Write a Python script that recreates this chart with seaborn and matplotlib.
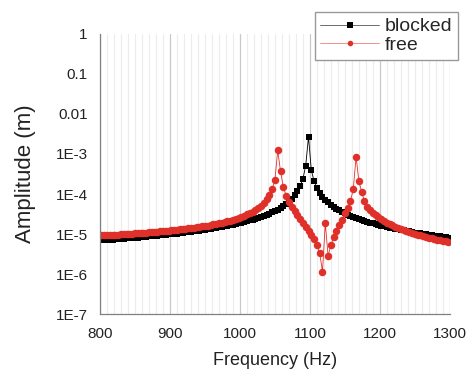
import numpy as np
import pandas as pd

import seaborn as sns
import matplotlib.pyplot as plt
from matplotlib.ticker import FixedLocator, FixedFormatter, MultipleLocator

# Frequency grid (Hz), one point every 4 Hz
freq = np.arange(802, 1299, 4)

# Amplitudes, in micrometres
blocked_um = [
    6.93, 7.01, 7.09, 7.18, 7.26, 7.35, 7.45, 7.54, 7.64, 7.74,
    7.85, 7.95, 8.06, 8.18, 8.30, 8.42, 8.55, 8.68, 8.82, 8.96,
    9.10, 9.26, 9.42, 9.58, 9.75, 9.93, 10.12, 10.31, 10.51, 10.72,
    10.94, 11.18, 11.42, 11.67, 11.94, 12.22, 12.51, 12.83, 13.15, 13.50,
    13.87, 14.26, 14.67, 15.11, 15.59, 16.09, 16.63, 17.20, 17.83, 18.50,
    19.23, 20.02, 20.88, 21.82, 22.86, 24.01, 25.28, 26.70, 28.29, 30.10,
    32.16, 34.53, 37.29, 40.54, 44.43, 50.0, 57.0, 65.6, 76.6, 92.2,
    115.7, 155.7, 238, 510, 2700, 395, 209, 141.7, 107.2, 86.1,
    71.9, 61.7, 54.0, 48.0, 43.2, 39.2, 35.9, 33.1, 30.7, 28.7,
    26.8, 25.2, 23.8, 22.5, 21.3, 20.3, 19.35, 18.48, 17.68, 16.95,
    16.27, 15.64, 15.06, 14.52, 14.01, 13.54, 13.10, 12.68, 12.29, 11.92,
    11.57, 11.24, 10.92, 10.62, 10.34, 10.07, 9.82, 9.57, 9.34, 9.12,
    8.91, 8.70, 8.51, 8.32, 8.14,
]
free_um = [
    9.23, 9.31, 9.39, 9.47, 9.55, 9.64, 9.73, 9.82, 9.92, 10.02,
    10.12, 10.23, 10.34, 10.46, 10.58, 10.70, 10.83, 10.97, 11.11, 11.26,
    11.42, 11.58, 11.75, 11.93, 12.12, 12.32, 12.53, 12.75, 12.98, 13.23,
    13.49, 13.77, 14.06, 14.38, 14.71, 15.07, 15.46, 15.87, 16.32, 16.81,
    17.33, 17.91, 18.54, 19.22, 19.98, 20.83, 21.77, 22.82, 24.01, 25.37,
    26.93, 28.74, 30.87, 33.42, 36.5, 40.3, 45.2, 51.6, 60.3, 73.1,
    93.4, 130.8, 222.7, 1230, 370, 150, 91, 63, 48, 37,
    29.5, 23.5, 18.6, 14.8, 11.7, 9.3, 7.4, 5.4, 3.3, 1.15,
    19, 2.8, 5.4, 8.2, 12, 16.5, 23, 33, 46, 68,
    132, 850, 210, 112, 66, 48, 40, 34.5, 30, 26.5,
    23.5, 21.2, 19.4, 17.8, 16.5, 15.4, 14.4, 13.5, 12.7, 12.0,
    11.35, 10.7, 10.2, 9.7, 9.3, 8.9, 8.5, 8.15, 7.8, 7.5,
    7.25, 7.0, 6.75, 6.55, 6.3,
]

ytick_vals = [1e-7, 1e-6, 1e-5, 1e-4, 1e-3, 1e-2, 1e-1, 1]
ytick_labels = ['1E-7', '1E-6', '1E-5', '1E-4', '1E-3', '0.01', '0.1', '1']
xtick_vals = [800, 900, 1000, 1100, 1200, 1300]

df_b = pd.DataFrame({'Frequency (Hz)': freq, 'Amplitude (m)': np.array(blocked_um) * 1e-6})
df_f = pd.DataFrame({'Frequency (Hz)': freq, 'Amplitude (m)': np.array(free_um) * 1e-6})

sns.set_style('white')
plt.rcParams['font.family'] = ['Liberation Sans', 'DejaVu Sans']

fig = plt.figure(figsize=(4.74, 3.73), dpi=100)
ax = fig.add_axes([0.211, 0.158, 0.738, 0.751])

sns.lineplot(data=df_b, x='Frequency (Hz)', y='Amplitude (m)', color='black',
             marker='s', markersize=4.6, markeredgewidth=0, linewidth=0.6, ax=ax)
sns.lineplot(data=df_f, x='Frequency (Hz)', y='Amplitude (m)', color='#e0302a',
             marker='o', markersize=5.4, markeredgewidth=0, linewidth=0.6, ax=ax)

ax.set_yscale('log')
ax.set_ylim(1e-7, 1)
ax.set_xlim(800, 1300)
ax.yaxis.set_major_locator(FixedLocator(ytick_vals))
ax.yaxis.set_major_formatter(FixedFormatter(ytick_labels))
ax.yaxis.set_minor_locator(FixedLocator([]))
ax.xaxis.set_major_locator(FixedLocator(xtick_vals))
ax.xaxis.set_minor_locator(MultipleLocator(10))

ax.grid(axis='x', which='major', color='#c8c8c8', linewidth=0.9)
ax.grid(axis='x', which='minor', color='#ececec', linewidth=0.8)
ax.grid(axis='y', visible=False)
ax.set_axisbelow(True)

for s in ['top', 'right']:
    ax.spines[s].set_visible(False)
for s in ['left', 'bottom']:
    ax.spines[s].set_color('#808080')
    ax.spines[s].set_linewidth(0.9)

ax.tick_params(axis='both', which='major', direction='out', length=4, width=0.9,
               color='#808080', labelsize=11, labelcolor='#222222')
ax.tick_params(axis='y', which='major', pad=5)
ax.tick_params(axis='x', which='major', pad=5)
ax.tick_params(axis='x', which='minor', direction='in', length=3, width=0.7, color='#808080')

ax.set_xlabel('Frequency (Hz)', fontsize=13, color='#222222', labelpad=8)
ax.set_ylabel('Amplitude (m)', fontsize=16, color='#222222', labelpad=14)

leg = fig.legend(ax.lines[:2], ['blocked', 'free'], loc='upper right',
                 bbox_to_anchor=(458 / 474, 1 - 12 / 373), frameon=True, fancybox=False,
                 edgecolor='#999999', framealpha=1, fontsize=14, handlelength=3.0,
                 borderpad=0.3, labelspacing=0.05, handletextpad=0.3, borderaxespad=0)
for h in leg.legend_handles:
    h.set_markersize(4)
leg.legend_handles[0].set_color('#555555')
leg.legend_handles[0].set_markerfacecolor('black')
leg.legend_handles[1].set_color('#f08080')
leg.legend_handles[1].set_markerfacecolor('#e0302a')

fig.savefig('out.png', dpi=100)
